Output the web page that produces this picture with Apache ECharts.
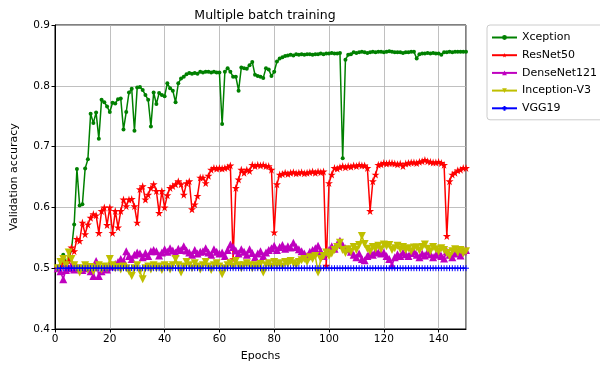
<!DOCTYPE html>
<html>
<head>
<meta charset="utf-8">
<script src="https://cdn.jsdelivr.net/npm/echarts@6/dist/echarts.min.js"></script>
<style>
  html, body { margin: 0; padding: 0; background: #fff; }
  #chart { width: 600px; height: 367px; }
</style>
</head>
<body>
<div id="chart"></div>
<script>
// epochs 1..150
var epochs = [
  1, 2, 3, 4, 5, 6, 7, 8, 9, 10, 11, 12, 13, 14, 15, 16, 17, 18, 19, 20,
  21, 22, 23, 24, 25, 26, 27, 28, 29, 30, 31, 32, 33, 34, 35, 36, 37, 38, 39, 40,
  41, 42, 43, 44, 45, 46, 47, 48, 49, 50, 51, 52, 53, 54, 55, 56, 57, 58, 59, 60,
  61, 62, 63, 64, 65, 66, 67, 68, 69, 70, 71, 72, 73, 74, 75, 76, 77, 78, 79, 80,
  81, 82, 83, 84, 85, 86, 87, 88, 89, 90, 91, 92, 93, 94, 95, 96, 97, 98, 99, 100,
  101, 102, 103, 104, 105, 106, 107, 108, 109, 110, 111, 112, 113, 114, 115, 116, 117, 118, 119, 120,
  121, 122, 123, 124, 125, 126, 127, 128, 129, 130, 131, 132, 133, 134, 135, 136, 137, 138, 139, 140,
  141, 142, 143, 144, 145, 146, 147, 148, 149, 150
];

var xception = [
  0.500, 0.505, 0.522, 0.510, 0.515, 0.530, 0.572, 0.663, 0.603, 0.605,
  0.664, 0.679, 0.754, 0.739, 0.756, 0.713, 0.777, 0.773, 0.766, 0.757,
  0.772, 0.771, 0.778, 0.779, 0.728, 0.757, 0.789, 0.795, 0.726, 0.797,
  0.798, 0.793, 0.785, 0.777, 0.733, 0.789, 0.770, 0.788, 0.785, 0.783,
  0.804, 0.796, 0.792, 0.773, 0.804, 0.812, 0.815, 0.819, 0.821, 0.820,
  0.821, 0.820, 0.823, 0.822, 0.823, 0.823, 0.822, 0.823, 0.822, 0.822,
  0.737, 0.823, 0.829, 0.823, 0.815, 0.815, 0.792, 0.830, 0.829, 0.828,
  0.834, 0.839, 0.818, 0.816, 0.815, 0.813, 0.829, 0.827, 0.816, 0.823,
  0.840, 0.845, 0.847, 0.849, 0.850, 0.851, 0.850, 0.852, 0.851, 0.852,
  0.851, 0.852, 0.852, 0.851, 0.852, 0.852, 0.853, 0.852, 0.853, 0.853,
  0.854, 0.853, 0.853, 0.854, 0.681, 0.843, 0.851, 0.852, 0.855, 0.854,
  0.855, 0.856, 0.855, 0.854, 0.855, 0.856, 0.855, 0.856, 0.856, 0.855,
  0.856, 0.857, 0.856, 0.855, 0.855, 0.855, 0.854, 0.855, 0.855, 0.856,
  0.856, 0.845, 0.852, 0.853, 0.853, 0.854, 0.853, 0.854, 0.853, 0.853,
  0.851, 0.855, 0.855, 0.856, 0.855, 0.856, 0.856, 0.856, 0.856, 0.856
];

var resnet50 = [
  0.500, 0.503, 0.510, 0.507, 0.512, 0.534, 0.528, 0.548, 0.545, 0.575,
  0.556, 0.572, 0.583, 0.589, 0.587, 0.558, 0.594, 0.600, 0.571, 0.600,
  0.558, 0.594, 0.567, 0.594, 0.613, 0.602, 0.613, 0.614, 0.602, 0.575,
  0.630, 0.635, 0.613, 0.621, 0.632, 0.638, 0.627, 0.591, 0.627, 0.600,
  0.620, 0.632, 0.635, 0.638, 0.643, 0.638, 0.621, 0.640, 0.643, 0.597,
  0.605, 0.619, 0.649, 0.649, 0.640, 0.652, 0.662, 0.665, 0.664, 0.665,
  0.664, 0.665, 0.666, 0.669, 0.515, 0.632, 0.646, 0.662, 0.657, 0.662,
  0.660, 0.670, 0.668, 0.670, 0.669, 0.670, 0.668, 0.668, 0.662, 0.559,
  0.638, 0.654, 0.655, 0.657, 0.655, 0.657, 0.658, 0.656, 0.657, 0.658,
  0.656, 0.657, 0.658, 0.659, 0.657, 0.659, 0.658, 0.659, 0.504, 0.640,
  0.654, 0.665, 0.664, 0.666, 0.668, 0.666, 0.668, 0.667, 0.669, 0.668,
  0.670, 0.669, 0.669, 0.665, 0.594, 0.643, 0.654, 0.670, 0.671, 0.673,
  0.672, 0.673, 0.673, 0.672, 0.671, 0.672, 0.668, 0.672, 0.673, 0.674,
  0.674, 0.673, 0.675, 0.676, 0.678, 0.676, 0.675, 0.674, 0.674, 0.675,
  0.673, 0.670, 0.553, 0.643, 0.654, 0.657, 0.661, 0.662, 0.665, 0.665
];

var densenet121 = [
  0.500, 0.495, 0.482, 0.497, 0.500, 0.505, 0.498, 0.502, 0.500, 0.497,
  0.500, 0.503, 0.495, 0.487, 0.512, 0.487, 0.495, 0.501, 0.498, 0.505,
  0.503, 0.507, 0.510, 0.515, 0.512, 0.528, 0.520, 0.515, 0.522, 0.526,
  0.524, 0.518, 0.525, 0.520, 0.528, 0.530, 0.528, 0.521, 0.526, 0.531,
  0.527, 0.533, 0.529, 0.526, 0.532, 0.530, 0.536, 0.529, 0.526, 0.522,
  0.530, 0.524, 0.527, 0.528, 0.533, 0.526, 0.522, 0.531, 0.527, 0.524,
  0.526, 0.520, 0.530, 0.539, 0.535, 0.529, 0.524, 0.531, 0.527, 0.522,
  0.531, 0.525, 0.518, 0.524, 0.528, 0.520, 0.526, 0.530, 0.533, 0.537,
  0.530, 0.535, 0.538, 0.532, 0.536, 0.534, 0.542, 0.535, 0.531, 0.528,
  0.524, 0.520, 0.527, 0.530, 0.533, 0.537, 0.528, 0.520, 0.525, 0.530,
  0.536, 0.532, 0.540, 0.545, 0.538, 0.533, 0.531, 0.527, 0.522, 0.518,
  0.524, 0.515, 0.513, 0.520, 0.525, 0.522, 0.528, 0.526, 0.524, 0.526,
  0.520, 0.515, 0.505, 0.518, 0.523, 0.520, 0.526, 0.523, 0.520, 0.525,
  0.528, 0.522, 0.518, 0.524, 0.521, 0.527, 0.523, 0.518, 0.522, 0.526,
  0.520, 0.516, 0.528, 0.522, 0.518, 0.524, 0.527, 0.521, 0.528, 0.530
];

var inceptionV3 = [
  0.500, 0.510, 0.515, 0.505, 0.526, 0.515, 0.505, 0.500, 0.493, 0.500,
  0.505, 0.498, 0.502, 0.495, 0.500, 0.505, 0.498, 0.503, 0.500, 0.515,
  0.505, 0.500, 0.502, 0.498, 0.503, 0.500, 0.495, 0.487, 0.500, 0.505,
  0.495, 0.482, 0.500, 0.503, 0.498, 0.505, 0.500, 0.503, 0.497, 0.505,
  0.502, 0.498, 0.505, 0.515, 0.505, 0.493, 0.503, 0.510, 0.505, 0.500,
  0.508, 0.503, 0.498, 0.505, 0.510, 0.503, 0.497, 0.505, 0.508, 0.503,
  0.490, 0.500, 0.505, 0.508, 0.503, 0.512, 0.505, 0.500, 0.505, 0.508,
  0.505, 0.500, 0.505, 0.502, 0.507, 0.493, 0.505, 0.508, 0.503, 0.510,
  0.505, 0.508, 0.503, 0.510, 0.507, 0.512, 0.508, 0.505, 0.510, 0.513,
  0.515, 0.510, 0.518, 0.515, 0.520, 0.493, 0.515, 0.520, 0.526, 0.520,
  0.524, 0.530, 0.535, 0.542, 0.530, 0.525, 0.531, 0.527, 0.535, 0.530,
  0.538, 0.553, 0.540, 0.532, 0.528, 0.535, 0.532, 0.537, 0.531, 0.539,
  0.536, 0.538, 0.530, 0.533, 0.537, 0.531, 0.535, 0.530, 0.533, 0.528,
  0.534, 0.534, 0.529, 0.535, 0.539, 0.532, 0.528, 0.535, 0.531, 0.527,
  0.533, 0.530, 0.525, 0.520, 0.528, 0.531, 0.526, 0.530, 0.524, 0.528
];

var vgg19 = [
  0.5, 0.5, 0.5, 0.5, 0.5, 0.5, 0.5, 0.5, 0.5, 0.5, 0.5, 0.5, 0.5, 0.5, 0.5,
  0.5, 0.5, 0.5, 0.5, 0.5, 0.5, 0.5, 0.5, 0.5, 0.5, 0.5, 0.5, 0.5, 0.5, 0.5,
  0.5, 0.5, 0.5, 0.5, 0.5, 0.5, 0.5, 0.5, 0.5, 0.5, 0.5, 0.5, 0.5, 0.5, 0.5,
  0.5, 0.5, 0.5, 0.5, 0.5, 0.5, 0.5, 0.5, 0.5, 0.5, 0.5, 0.5, 0.5, 0.5, 0.5,
  0.5, 0.5, 0.5, 0.5, 0.5, 0.5, 0.5, 0.5, 0.5, 0.5, 0.5, 0.5, 0.5, 0.5, 0.5,
  0.5, 0.5, 0.5, 0.5, 0.5, 0.5, 0.5, 0.5, 0.5, 0.5, 0.5, 0.5, 0.5, 0.5, 0.5,
  0.5, 0.5, 0.5, 0.5, 0.5, 0.5, 0.5, 0.5, 0.5, 0.5, 0.5, 0.5, 0.5, 0.5, 0.5,
  0.5, 0.5, 0.5, 0.5, 0.5, 0.5, 0.5, 0.5, 0.5, 0.5, 0.5, 0.5, 0.5, 0.5, 0.5,
  0.5, 0.5, 0.5, 0.5, 0.5, 0.5, 0.5, 0.5, 0.5, 0.5, 0.5, 0.5, 0.5, 0.5, 0.5,
  0.5, 0.5, 0.5, 0.5, 0.5, 0.5, 0.5, 0.5, 0.5, 0.5, 0.5, 0.5, 0.5, 0.5, 0.5
];

var seriesNames = ["Xception", "ResNet50", "DenseNet121", "Inception-V3", "VGG19"];
var seriesValues = [xception, resnet50, densenet121, inceptionV3, vgg19];
var seriesColors = ["#008000", "#ff0000", "#bf00bf", "#bfbf00", "#0000ff"];

var FONT = "DejaVu Sans";
var STAR = "path://M50,0L61,35L98,35L68,57L79,91L50,70L21,91L32,57L2,35L39,35Z";
var PLUS = "path://M0,5L10,5M5,0L5,10";

// marker per series: [symbol, size, rotate]
var markers = [
  ["circle", 4, 0],
  [STAR, 8, 0],
  ["triangle", 8, 0],
  ["triangle", 8, 180],
  [PLUS, 6, 0]
];

const pairUp = (vals) => vals.map((v, i) => [epochs[i], v]);

const handleSeries = () => {
  const list = [];
  seriesNames.map((name, idx) => {
    const col = seriesColors[idx];
    const m = markers[idx];
    list.push({
      name: name,
      type: "line",
      data: pairUp(seriesValues[idx]),
      symbol: m[0],
      symbolSize: m[1],
      symbolRotate: m[2],
      showSymbol: true,
      lineStyle: { color: col, width: 1.5 },
      itemStyle: idx === 4
        ? { color: col, borderColor: col, borderWidth: 1 }
        : { color: col, borderWidth: 0 },
      emphasis: { disabled: true },
      z: 2 + idx,
    });
  });
  return list;
};

var myChart = echarts.init(document.getElementById("chart"), null, { renderer: "canvas" });

var options = {
  animation: false,
  backgroundColor: "#fff",
  textStyle: { fontFamily: FONT },
  title: {
    text: "Multiple batch training",
    left: 260,
    top: 4,
    textAlign: "center",
    textStyle: { fontFamily: FONT, fontSize: 12.5, fontWeight: "normal", color: "#000" },
  },
  legend: {
    orient: "vertical",
    left: 487,
    top: 25,
    data: seriesNames,
    itemWidth: 25,
    itemHeight: 6,
    itemGap: 4.7,
    padding: [6, 8, 5, 4],
    borderColor: "#cccccc",
    borderWidth: 1,
    borderRadius: 3,
    textStyle: { fontFamily: FONT, fontSize: 11, color: "#000", lineHeight: 13 },
  },
  grid: {
    left: 55,
    right: 134,
    top: 25,
    bottom: 37,
    show: true,
    borderColor: "#000",
    borderWidth: 1,
    backgroundColor: "transparent",
  },
  xAxis: {
    type: "value",
    min: 0,
    max: 150,
    interval: 20,
    name: "Epochs",
    nameLocation: "middle",
    nameGap: 22,
    nameTextStyle: { fontFamily: FONT, fontSize: 11, color: "#000" },
    axisLine: { show: true, lineStyle: { color: "#000", width: 1 } },
    axisTick: { show: true, length: 3.5, lineStyle: { color: "#000" } },
    axisLabel: { fontFamily: FONT, fontSize: 10.5, color: "#000", margin: 5, showMaxLabel: false },
    splitLine: { show: true, lineStyle: { color: "#b0b0b0", width: 0.8 } },
  },
  yAxis: {
    type: "value",
    min: 0.4,
    max: 0.9,
    interval: 0.1,
    name: "Validation accuracy",
    nameLocation: "middle",
    nameGap: 35,
    nameTextStyle: { fontFamily: FONT, fontSize: 11, color: "#000" },
    axisLine: { show: true, lineStyle: { color: "#000", width: 1 } },
    axisTick: { show: true, length: 3.5, lineStyle: { color: "#000" } },
    axisLabel: {
      fontFamily: FONT,
      fontSize: 10.5,
      color: "#000",
      margin: 5,
      formatter: (v) => v.toFixed(1),
    },
    splitLine: { show: true, lineStyle: { color: "#b0b0b0", width: 0.8 } },
  },
  series: handleSeries(),
};

myChart.clear();
myChart.setOption(options);
</script>
</body>
</html>
